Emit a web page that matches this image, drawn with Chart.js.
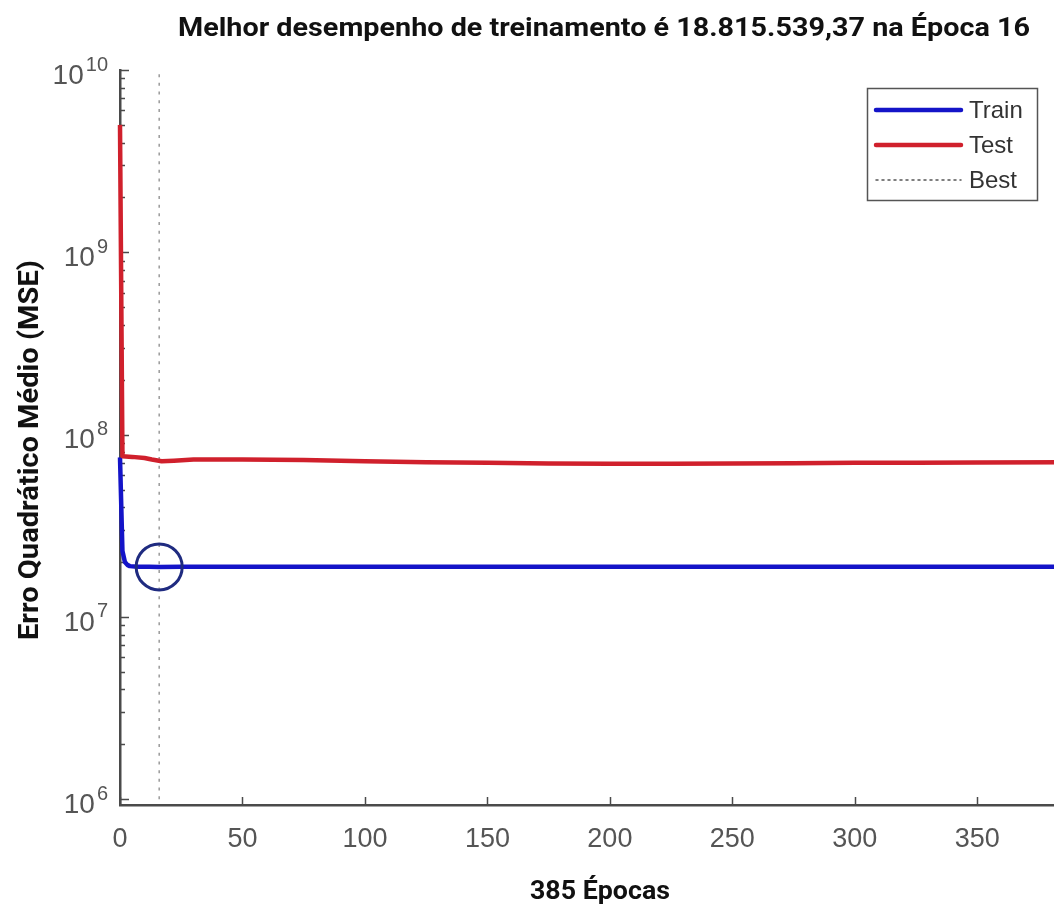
<!DOCTYPE html>
<html>
<head>
<meta charset="utf-8">
<script src="https://cdn.jsdelivr.net/npm/chart.js@4.4.1/dist/chart.umd.min.js"></script>
<style>
html,body{margin:0;padding:0;background:#fff;overflow:hidden}
canvas{display:block}
</style>
</head>
<body>
<canvas id="c" width="1063" height="907"></canvas>
<script>
// ---- texts ----
const chartTitle = 'Melhor desempenho de treinamento é 18.815.539,37 na Época 16';
const xAxisTitle = '385 Épocas';
const yAxisTitle = 'Erro Quadrático Médio (MSE)';
const legendLabels = ['Train', 'Test', 'Best'];

// ---- ticks ----
const xTickValues = [0, 50, 100, 150, 200, 250, 300, 350];
const yTickExponents = [6, 7, 8, 9, 10];

// ---- data ----
const trainEpochs = [0, 1, 2, 3, 4, 6, 8, 12, 16, 25, 50, 100, 150, 200, 250, 300, 350, 385];
const trainMSE = [7.5e7, 2.3e7, 2.0e7, 1.93e7, 1.9e7, 1.89e7, 1.887e7, 1.884e7, 18815539.37, 1.884e7, 1.886e7, 1.887e7, 1.887e7, 1.887e7, 1.887e7, 1.887e7, 1.887e7, 1.887e7];

const testEpochs = [0, 1, 5, 10, 13, 17, 22, 30, 50, 75, 100, 125, 150, 175, 200, 225, 250, 275, 300, 325, 350, 385];
const testMSE = [5.0e9, 7.6e7, 7.55e7, 7.45e7, 7.3e7, 7.15e7, 7.2e7, 7.3e7, 7.3e7, 7.25e7, 7.15e7, 7.05e7, 7.0e7, 6.95e7, 6.93e7, 6.93e7, 6.95e7, 6.97e7, 7.0e7, 7.02e7, 7.04e7, 7.05e7];

const bestEpoch = 16;
const bestMSE = 18815539.37;

const xMax = 385;
const yMin = 9.3e5;
const yMax = 1e10;

const toPts = (xs, ys) => xs.map((x, i) => ({ x: x, y: ys[i] }));

const BLUE = '#1414c8';
const RED = '#d0202c';
const NAVY = '#1f2b80';
const AXIS = '#4a4a4a';
const TICKTXT = '#555555';

function fitText(ctx, text, x, y, font, targetW, align) {
  ctx.save();
  ctx.font = font;
  const w = ctx.measureText(text).width;
  const s = targetW / w;
  ctx.translate(x, y);
  ctx.scale(s, 1);
  ctx.textAlign = align || 'center';
  ctx.fillText(text, 0, 0);
  ctx.restore();
}

const decor = {
  id: 'decor',
  beforeDatasetsDraw(chart) {
    const ctx = chart.ctx;
    const xs = chart.scales.x, ys = chart.scales.y;
    const ca = chart.chartArea;
    ctx.save();
    ctx.strokeStyle = AXIS;
    ctx.lineWidth = 1.5;
    xTickValues.forEach(v => {
      const px = Math.round(xs.getPixelForValue(v)) + 0.5;
      ctx.beginPath();
      ctx.moveTo(px, ca.bottom);
      ctx.lineTo(px, ca.bottom - 8);
      ctx.stroke();
    });
    const eMin = Math.min(...yTickExponents), eMax = Math.max(...yTickExponents);
    for (let e = eMin; e <= eMax; e++) {
      for (let m = 1; m <= 9; m++) {
        if (e === eMax && m > 1) break;
        const v = m * Math.pow(10, e);
        const py = Math.round(ys.getPixelForValue(v)) + 0.5;
        const len = m === 1 ? 9 : 5;
        ctx.beginPath();
        ctx.moveTo(ca.left, py);
        ctx.lineTo(ca.left + len, py);
        ctx.stroke();
      }
    }
    ctx.restore();
  },
  afterDraw(chart) {
    const ctx = chart.ctx;
    const xs = chart.scales.x, ys = chart.scales.y;
    const ca = chart.chartArea;
    ctx.save();
    ctx.fillStyle = TICKTXT;
    // x tick labels
    ctx.font = '27px "Liberation Sans", Arial, sans-serif';
    ctx.textAlign = 'center';
    ctx.textBaseline = 'middle';
    xTickValues.forEach(v => {
      ctx.fillText(String(v), xs.getPixelForValue(v), ca.bottom + 35);
    });
    // y tick labels 10^n
    yTickExponents.forEach(e => {
      const py = ys.getPixelForValue(Math.pow(10, e));
      const exp = String(e);
      ctx.font = '20px "Liberation Sans", Arial, sans-serif';
      const ew = ctx.measureText(exp).width;
      const expRight = 108;
      ctx.textAlign = 'right';
      ctx.textBaseline = 'middle';
      ctx.fillText(exp, expRight, py - 5);
      ctx.font = '28px "Liberation Sans", Arial, sans-serif';
      ctx.fillText('10', expRight - ew - 2, py + 6);
    });

    ctx.fillStyle = '#111111';
    ctx.textBaseline = 'alphabetic';
    fitText(ctx, chartTitle, 604, 36, 'bold 25px Roboto, "Liberation Sans", sans-serif', 852, 'center');
    fitText(ctx, xAxisTitle, 600, 899, 'bold 26px Roboto, "Liberation Sans", sans-serif', 140, 'center');
    ctx.save();
    ctx.translate(38, 450);
    ctx.rotate(-Math.PI / 2);
    fitText(ctx, yAxisTitle, 0, 0, 'bold 27px Roboto, "Liberation Sans", sans-serif', 380, 'center');
    ctx.restore();

    const bx = 867, by = 88, bw = 170, bh = 112;
    ctx.fillStyle = '#ffffff';
    ctx.fillRect(bx, by, bw, bh);
    ctx.strokeStyle = '#555555';
    ctx.lineWidth = 1.5;
    ctx.strokeRect(bx + 0.5, by + 0.5, bw, bh);
    const rows = [
      { label: legendLabels[0], color: BLUE, width: 4.5, dash: [], y: 110 },
      { label: legendLabels[1], color: RED, width: 4.5, dash: [], y: 145 },
      { label: legendLabels[2], color: '#555555', width: 1.5, dash: [2, 4], y: 180 }
    ];
    rows.forEach(r => {
      ctx.beginPath();
      ctx.setLineDash(r.dash);
      ctx.strokeStyle = r.color;
      ctx.lineWidth = r.width;
      ctx.lineCap = 'round';
      ctx.moveTo(876, r.y);
      ctx.lineTo(961, r.y);
      ctx.stroke();
      ctx.setLineDash([]);
      ctx.fillStyle = '#333333';
      ctx.font = '24px "Liberation Sans", Arial, sans-serif';
      ctx.textAlign = 'left';
      ctx.textBaseline = 'middle';
      ctx.fillText(r.label, 969, r.y + 1);
    });
    ctx.restore();
  }
};

const ctx = document.getElementById('c').getContext('2d');
new Chart(ctx, {
  type: 'line',
  data: {
    datasets: [
      {
        label: legendLabels[2],
        data: [{ x: bestEpoch, y: Math.pow(10, Math.min(...yTickExponents)) }, { x: bestEpoch, y: Math.pow(10, Math.max(...yTickExponents)) }],
        borderColor: '#9a9a9a', borderWidth: 1.5, borderDash: [3, 5.7],
        pointRadius: 0, order: 4
      },
      {
        label: legendLabels[0],
        data: toPts(trainEpochs, trainMSE),
        borderColor: BLUE, borderWidth: 4.5, pointRadius: 0, tension: 0,
        borderJoinStyle: 'round', order: 3, clip: 10
      },
      {
        label: legendLabels[1],
        data: toPts(testEpochs, testMSE),
        borderColor: RED, borderWidth: 4.5, pointRadius: 0, tension: 0,
        borderJoinStyle: 'round', order: 2, clip: 10
      },
      {
        label: 'best point',
        data: [{ x: bestEpoch, y: bestMSE }],
        showLine: false, pointRadius: 23, pointBorderWidth: 3,
        pointBorderColor: NAVY, pointBackgroundColor: 'rgba(0,0,0,0)',
        pointHoverRadius: 23, order: 1, clip: false
      }
    ]
  },
  options: {
    responsive: false,
    devicePixelRatio: 1,
    animation: false,
    events: [],
    layout: { autoPadding: false, padding: { left: 0, top: 70, right: 0, bottom: 0 } },
    plugins: {
      legend: { display: false },
      tooltip: { enabled: false },
      title: { display: false }
    },
    scales: {
      x: {
        type: 'linear', min: 0, max: xMax,
        afterFit: s => { s.height = 102; },
        grid: { display: false, drawTicks: false },
        border: { display: true, color: AXIS, width: 2.5 },
        ticks: { display: false, stepSize: 50 }
      },
      y: {
        type: 'logarithmic', min: yMin, max: yMax,
        afterFit: s => { s.width = 120; },
        grid: { display: false, drawTicks: false },
        border: { display: true, color: AXIS, width: 2.5 },
        ticks: { display: false }
      }
    }
  },
  plugins: [decor]
});
</script>
</body>
</html>
